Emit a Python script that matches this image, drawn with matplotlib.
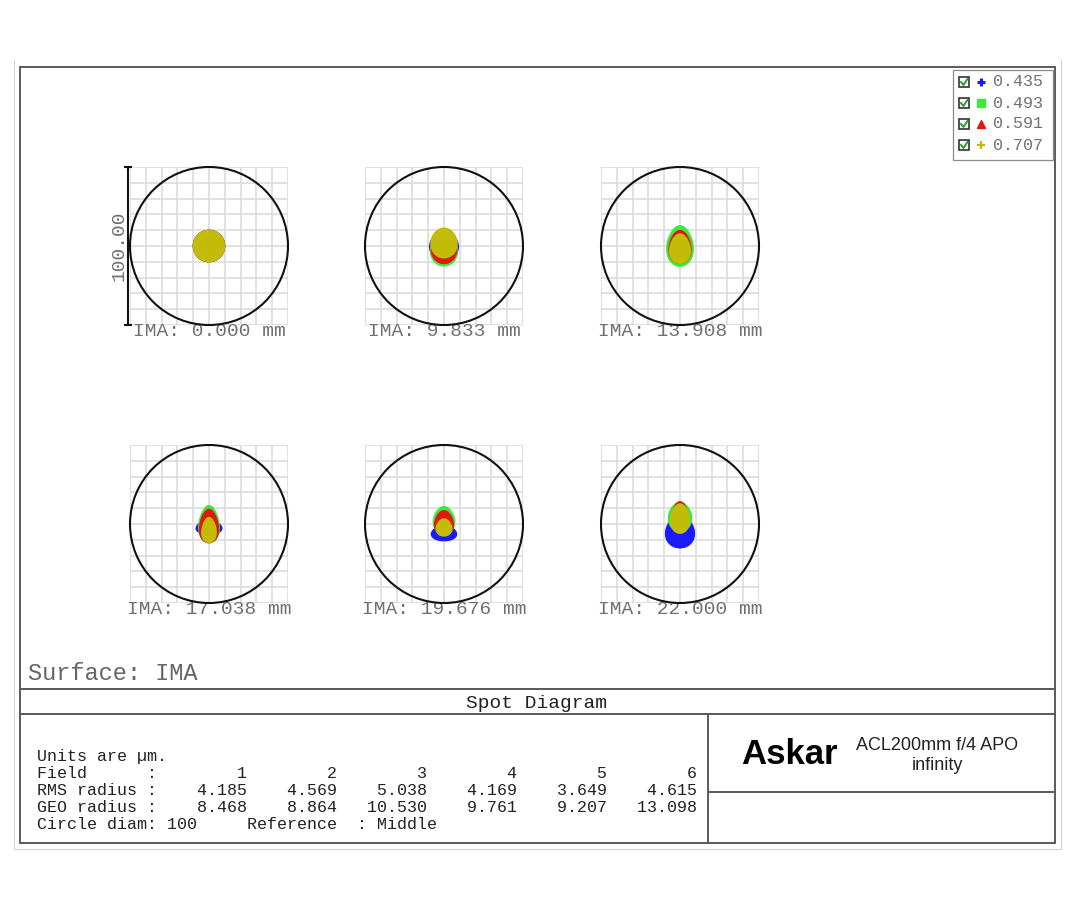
import matplotlib.pyplot as plt
import numpy as np
from matplotlib.patches import Polygon, Circle, Rectangle

# ==========================================================
# SPOT DIAGRAM DATA
# ==========================================================
wavelengths = ['0.435', '0.493', '0.591', '0.707']
wave_colors = ['#1a1aff', '#3ee83a', '#e2170f', '#c2bb08']
legend_markers = ['P', 's', '^', '+']

field_labels = ['IMA: 0.000 mm', 'IMA: 9.833 mm', 'IMA: 13.908 mm',
                'IMA: 17.038 mm', 'IMA: 19.676 mm', 'IMA: 22.000 mm']
field_numbers = [1, 2, 3, 4, 5, 6]
rms_radius = [4.185, 4.569, 5.038, 4.169, 3.649, 4.615]
geo_radius = [8.468, 8.864, 10.530, 9.761, 9.207, 13.098]
circle_diam = 100

# spot blobs per field, per wavelength (um): vertical offset, half width, half height
spot_dy = [
    [0.0, 0.0, 0.0, 0.0],
    [0.0, -2.5, -1.5, 1.9],
    [1.9, 0.0, -0.6, -1.7],
    [-1.9, 0.0, -1.3, -3.8],
    [-5.7, 2.5, 0.6, -2.2],
    [-4.9, 4.6, 6.3, 3.4],
]
spot_hw = [
    [10.3, 10.3, 10.3, 10.3],
    [9.5, 9.0, 8.5, 8.7],
    [8.2, 8.7, 7.3, 6.9],
    [8.4, 6.8, 6.3, 4.9],
    [8.3, 7.1, 6.3, 5.3],
    [9.5, 7.7, 5.1, 6.3],
]
spot_hh = [
    [10.3, 10.3, 10.3, 10.3],
    [9.0, 10.5, 10.0, 9.8],
    [7.6, 13.2, 10.8, 9.7],
    [5.0, 12.1, 11.0, 8.4],
    [5.3, 8.9, 8.2, 5.8],
    [10.6, 9.5, 8.2, 9.7],
]
# how much each field's spots narrow towards the top (egg look)
spot_taper = [0.0, 0.05, 0.15, 0.2, 0.15, 0.12]

# ==========================================================
# FIGURE
# ==========================================================
W, H = 1080, 900
fig = plt.figure(figsize=(W / 100, H / 100), dpi=100)
mono = 'Liberation Mono'

# page layer in pixel coordinates
ax0 = fig.add_axes([0, 0, 1, 1])
ax0.set_xlim(0, W)
ax0.set_ylim(H, 0)
ax0.axis('off')

frame_col = '#5a5a5a'
# faint outer border
ax0.plot([14, 14, 1061, 1061], [60, 849, 849, 60], color='#d4d4d4', lw=0.8)
# main frame
ax0.add_patch(Rectangle((20, 67), 1035, 776, fill=False, ec=frame_col, lw=1.4))
ax0.plot([20, 1055], [689, 689], color=frame_col, lw=1.4)
ax0.plot([20, 1055], [714, 714], color=frame_col, lw=1.4)
ax0.plot([708, 708], [714, 843], color=frame_col, lw=1.4)
ax0.plot([708, 1055], [792, 792], color=frame_col, lw=1.4)

# legend box
ax0.add_patch(Rectangle((953, 70), 100, 90, fill=False, ec='#8a8a8a', lw=0.9))
for i, (wl, col, mk) in enumerate(zip(wavelengths, wave_colors, legend_markers)):
    y = 82 + i * 21
    ax0.add_patch(Rectangle((959, y - 5), 10, 10, fill=False, ec='#333333', lw=1.2))
    ax0.plot([961, 963.5, 967.5], [y, y + 3, y - 3], color='#2aa02a', lw=1.4)
    if mk == 'P':
        ax0.plot(981, y, marker='+', ms=6, mew=2.2, color=col)
    elif mk == '+':
        ax0.plot(981, y, marker='+', ms=6, mew=1.6, color=col)
    else:
        ax0.plot(981, y, marker=mk, ms=5.5, color=col, mec=col)
    ax0.text(993, y, wl, family=mono, fontsize=12, color='#707070', va='center', ha='left')

# texts
ax0.text(28, 673, 'Surface: IMA', family=mono, fontsize=17, color='#666666', va='center', ha='left')
ax0.text(537, 703, 'Spot Diagram', family=mono, fontsize=14, color='#222222', va='center', ha='center')

table_lines = [
    'Units are \u00b5m.',
    'Field      :' + ''.join(f'{n:>9d}' for n in field_numbers),
    'RMS radius :' + ''.join(f'{v:>9.3f}' for v in rms_radius),
    'GEO radius :' + ''.join(f'{v:>9.3f}' for v in geo_radius),
    f'Circle diam: {circle_diam}     Reference  : Middle',
]
for i, line in enumerate(table_lines):
    ax0.text(37, 757 + i * 16.8, line, family=mono, fontsize=12, color='#222222',
             va='center', ha='left')

ax0.text(741, 755, 'Askar', family='Liberation Sans', fontweight='bold', fontsize=25,
         color='black', va='center', ha='left')
ax0.text(937, 745, 'ACL200mm f/4 APO', family='Liberation Sans', fontsize=13,
         color='#222222', va='center', ha='center')
ax0.text(937, 766, 'infinity', family='Liberation Sans', fontsize=13,
         color='#222222', va='center', ha='center')

# ==========================================================
# SPOT PANELS
# ==========================================================
col_x = [130, 365, 601]
row_y = [167, 445]
box = 158
R = circle_diam / 2
t = np.linspace(0, 2 * np.pi, 120)

for k in range(6):
    x0 = col_x[k % 3]
    y0 = row_y[k // 3]
    ax = fig.add_axes([x0 / W, 1 - (y0 + box) / H, box / W, box / H])
    ax.set_xlim(-R, R)
    ax.set_ylim(-R, R)
    ax.set_facecolor('none')
    for s in ax.spines.values():
        s.set_visible(False)
    ticks = np.arange(-R, R + 1, 10)
    ax.set_xticks(ticks)
    ax.set_yticks(ticks)
    ax.tick_params(length=0, labelbottom=False, labelleft=False)
    ax.grid(True, color='#dcdcdc', lw=1.2)
    ax.set_axisbelow(True)

    for w in range(4):
        hw, hh, dy = spot_hw[k][w], spot_hh[k][w], spot_dy[k][w]
        xs = hw * np.cos(t) * (1 - spot_taper[k] * np.sin(t))
        ys = dy + hh * np.sin(t)
        ax.add_patch(Polygon(np.column_stack([xs, ys]), closed=True,
                             fc=wave_colors[w], ec='none', zorder=3 + w))
    ax.add_patch(Circle((0, 0), R, fill=False, ec='#111111', lw=1.5, zorder=8, clip_on=False))

    ax.text(0, -R - 4, field_labels[k], family=mono, fontsize=14, color='#707070',
            ha='center', va='center', clip_on=False)

    if k == 0:
        ax.plot([-R - 1.3, -R - 1.3], [-R, R], color='#111111', lw=1.5, clip_on=False)
        ax.plot([-R - 1.3, -R - 1.3], [-R, R], ls='none', marker='_', ms=6, mew=1.5,
                color='#111111', clip_on=False)
        ax.text(-R - 7, 0, '100.00', family=mono, fontsize=14, color='#707070',
                rotation=90, ha='center', va='center', clip_on=False)

fig.savefig('out.png', dpi=100)
